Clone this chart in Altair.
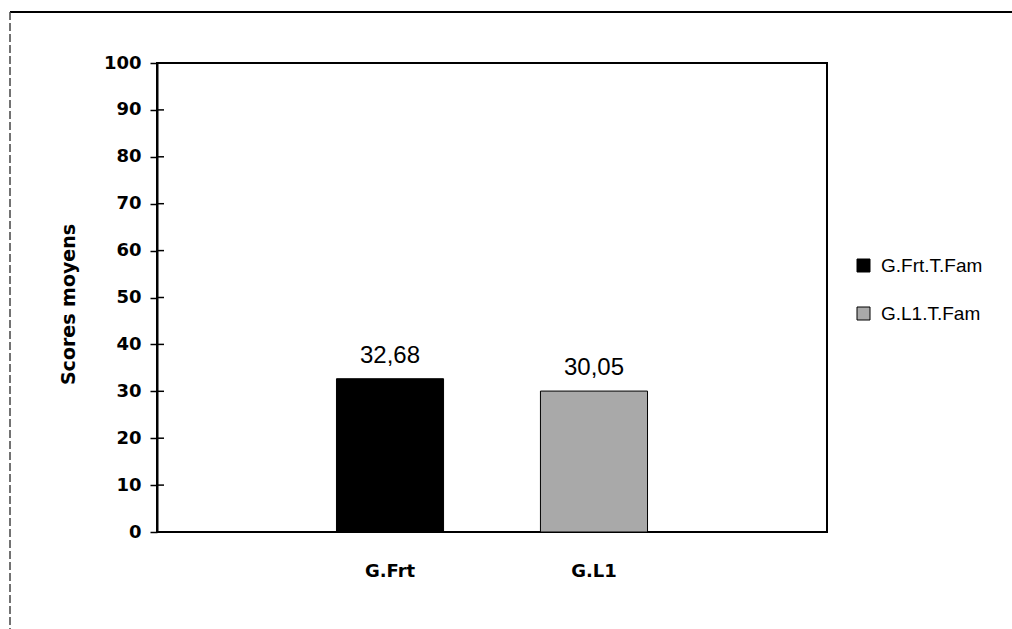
import altair as alt
import pandas as pd

categories = ["G.Frt", "G.L1"]
series = ["G.Frt.T.Fam", "G.L1.T.Fam"]
values = [32.68, 30.05]
value_labels = ["32,68", "30,05"]
y_ticks = [0, 10, 20, 30, 40, 50, 60, 70, 80, 90, 100]
colors = ["#000000", "#a9a9a9"]

df = pd.DataFrame({"category": categories, "series": series,
                   "value": values, "label": value_labels})
ticks_df = pd.DataFrame({"value": y_ticks})
one = pd.DataFrame({"a": [0]})

x_enc = alt.X("category:N", sort=categories,
              scale=alt.Scale(paddingInner=0.475, paddingOuter=0.88),
              axis=alt.Axis(title=None, labelAngle=0, labelFont="DejaVu Sans",
                            labelFontWeight="bold", labelFontSize=18,
                            labelColor="black", ticks=False, domain=False,
                            labelPadding=30))

y_axis = alt.Axis(values=y_ticks, title="Scores moyens",
                  labelFont="DejaVu Sans", labelFontWeight="bold",
                  labelFontSize=18, labelColor="black",
                  tickColor="black", tickSize=7, tickWidth=1.5,
                  labelPadding=9, domainColor="black", domainWidth=2,
                  titleFont="DejaVu Sans", titleFontWeight="bold",
                  titleFontSize=19, titleColor="black",
                  titleX=-79, titleY=241)

y_enc = alt.Y("value:Q", scale=alt.Scale(domain=[0, 100], nice=False),
              axis=y_axis)

bars = alt.Chart(df).mark_bar(stroke="black", strokeWidth=1).encode(
    x=x_enc,
    y=y_enc,
    color=alt.Color("series:N",
                    scale=alt.Scale(domain=series, range=colors),
                    legend=alt.Legend(orient="none", legendX=697, legendY=193,
                                      title=None, symbolType="square",
                                      symbolSize=169, symbolStrokeColor="black",
                                      symbolStrokeWidth=1,
                                      labelFont="Liberation Sans",
                                      labelFontSize=19, labelColor="black",
                                      labelOffset=8, rowPadding=28, padding=0)),
)

inner_ticks = alt.Chart(ticks_df).mark_rule(color="black", strokeWidth=1.5).encode(
    y=y_enc, x=alt.value(0), x2=alt.value(7)
)

labels = alt.Chart(df).mark_text(font="Liberation Sans", fontSize=24,
                                 baseline="alphabetic", dy=-16,
                                 color="black").encode(
    x=alt.X("category:N", sort=categories),
    y=y_enc,
    text="label:N",
)

frame_top = alt.Chart(one).mark_rule(color="black", strokeWidth=2).encode(
    x=alt.value(-147), x2=alt.value(855), y=alt.value(-51)
)
frame_left = alt.Chart(one).mark_rule(color="#444444", strokeWidth=1.5,
                                      strokeDash=[8, 3]).encode(
    x=alt.value(-147), y=alt.value(-51), y2=alt.value(566)
)

chart = alt.layer(bars, inner_ticks, labels, frame_top, frame_left).properties(
    width=670, height=469,
    autosize=alt.AutoSizeParams(type="none"),
    padding={"left": 157, "top": 63, "right": 185, "bottom": 97},
    background="white",
).configure_view(stroke="black", strokeWidth=2).configure_axis(grid=False)

chart.save("out.html", embed_options={"renderer": "svg", "actions": False})
